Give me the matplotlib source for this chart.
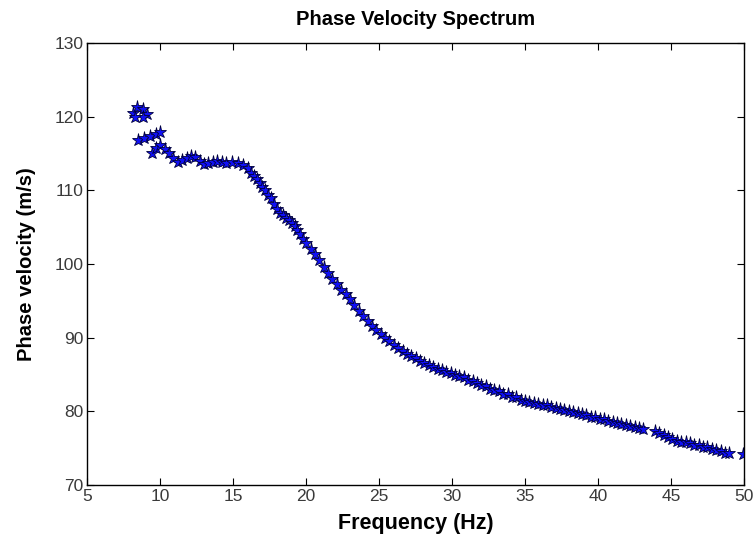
import matplotlib
matplotlib.use("Agg")
import matplotlib.pyplot as plt

plt.rcParams['font.family'] = ['Liberation Sans', 'DejaVu Sans']

freq = [8.1, 8.4, 8.8, 9.1, 8.8, 8.3,
        8.5, 8.9, 9.3, 9.7, 10.0,
        9.4, 9.7, 10.0, 10.3, 10.6, 10.9, 11.2, 11.5, 11.8, 12.1, 12.4,
        12.7, 13.0, 13.3, 13.6, 13.9, 14.2, 14.5, 14.9, 15.3, 15.7,
        16.0, 16.2, 16.4, 16.6, 16.8, 17.0, 17.2, 17.4, 17.6, 17.8,
        18.0, 18.2, 18.4, 18.6, 18.8, 19.0, 19.2, 19.4, 19.6, 19.8,
        20.0, 20.3, 20.6, 20.9, 21.2, 21.5, 21.8, 22.1, 22.4, 22.7,
        23.0, 23.3, 23.6, 23.9, 24.2, 24.5, 24.8, 25.1, 25.4, 25.7,
        26.0, 26.3, 26.6, 26.9, 27.2, 27.5, 27.8, 28.1, 28.4, 28.7,
        29.0, 29.3, 29.6, 29.9, 30.2, 30.5, 30.8, 31.1, 31.4, 31.7,
        32.0, 32.3, 32.6, 32.9, 33.2, 33.5, 33.8, 34.1, 34.4, 34.7,
        35.0, 35.3, 35.6, 35.9, 36.2, 36.5, 36.8, 37.1, 37.4, 37.7,
        38.0, 38.3, 38.6, 38.9, 39.2, 39.5, 39.8, 40.1, 40.4, 40.7,
        41.0, 41.3, 41.6, 41.9, 42.2, 42.5, 42.8, 43.1,
        43.9, 44.2, 44.5, 44.8, 45.1, 45.4, 45.7, 46.0, 46.3, 46.6,
        46.9, 47.2, 47.5, 47.8, 48.1, 48.4, 48.7, 49.0,
        49.9]

velocity = [120.5, 121.3, 121.0, 120.4, 119.9, 119.9,
            116.8, 117.1, 117.4, 117.6, 117.9,
            115.0, 115.8, 116.1, 115.6, 115.0, 114.4, 113.9, 114.1, 114.4, 114.6, 114.5,
            114.0, 113.6, 113.7, 113.9, 114.0, 113.8, 113.7, 113.8, 113.7, 113.4,
            113.0, 112.4, 112.0, 111.5, 111.0, 110.4, 110.0, 109.4, 108.9, 108.2,
            107.4, 106.9, 106.6, 106.3, 106.0, 105.6, 105.2, 104.6, 104.1, 103.4,
            102.8, 102.1, 101.3, 100.5, 99.6, 98.8, 98.0, 97.3, 96.5, 95.9,
            95.2, 94.4, 93.6, 92.9, 92.3, 91.6, 91.0, 90.5, 90.0, 89.5,
            89.0, 88.6, 88.2, 87.8, 87.5, 87.2, 86.9, 86.6, 86.3, 86.0,
            85.8, 85.6, 85.4, 85.2, 85.0, 84.8, 84.6, 84.3, 84.1, 83.9,
            83.6, 83.4, 83.1, 82.9, 82.7, 82.4, 82.3, 82.0, 81.9, 81.6,
            81.4, 81.3, 81.1, 81.0, 80.9, 80.8, 80.6, 80.4, 80.3, 80.2,
            80.1, 79.9, 79.8, 79.7, 79.5, 79.3, 79.2, 79.0, 78.9, 78.7,
            78.5, 78.4, 78.3, 78.1, 78.0, 77.9, 77.8, 77.6,
            77.3, 77.1, 76.8, 76.5, 76.3, 76.0, 75.9, 75.8, 75.7, 75.5,
            75.4, 75.2, 75.1, 74.9, 74.8, 74.6, 74.4, 74.3,
            74.2]

xticks = [5, 10, 15, 20, 25, 30, 35, 40, 45, 50]
yticks = [70, 80, 90, 100, 110, 120, 130]

fig = plt.figure(figsize=(7.53, 5.36), dpi=100)
ax = fig.add_axes([0.116, 0.095, 0.872, 0.825])
ax.plot(freq, velocity, linestyle='none', marker='*', markersize=9.5,
        markerfacecolor='#1010f5', markeredgecolor='#00003c', markeredgewidth=0.6)
ax.set_xlim(5, 50)
ax.set_ylim(70, 130)
ax.set_xticks(xticks)
ax.set_yticks(yticks)
ax.tick_params(direction='in', top=True, right=True, length=5, width=0.8,
               labelsize=12.5, labelcolor='#3a3a3a', pad=3)
for s in ax.spines.values():
    s.set_linewidth(1.0)
ax.set_title('Phase Velocity Spectrum', fontsize=14.5, fontweight='bold', pad=13)
ax.set_xlabel('Frequency (Hz)', fontsize=15.5, fontweight='bold', labelpad=6)
ax.set_ylabel('Phase velocity (m/s)', fontsize=14.5, fontweight='bold', labelpad=13)
fig.savefig('out.png', dpi=100)
